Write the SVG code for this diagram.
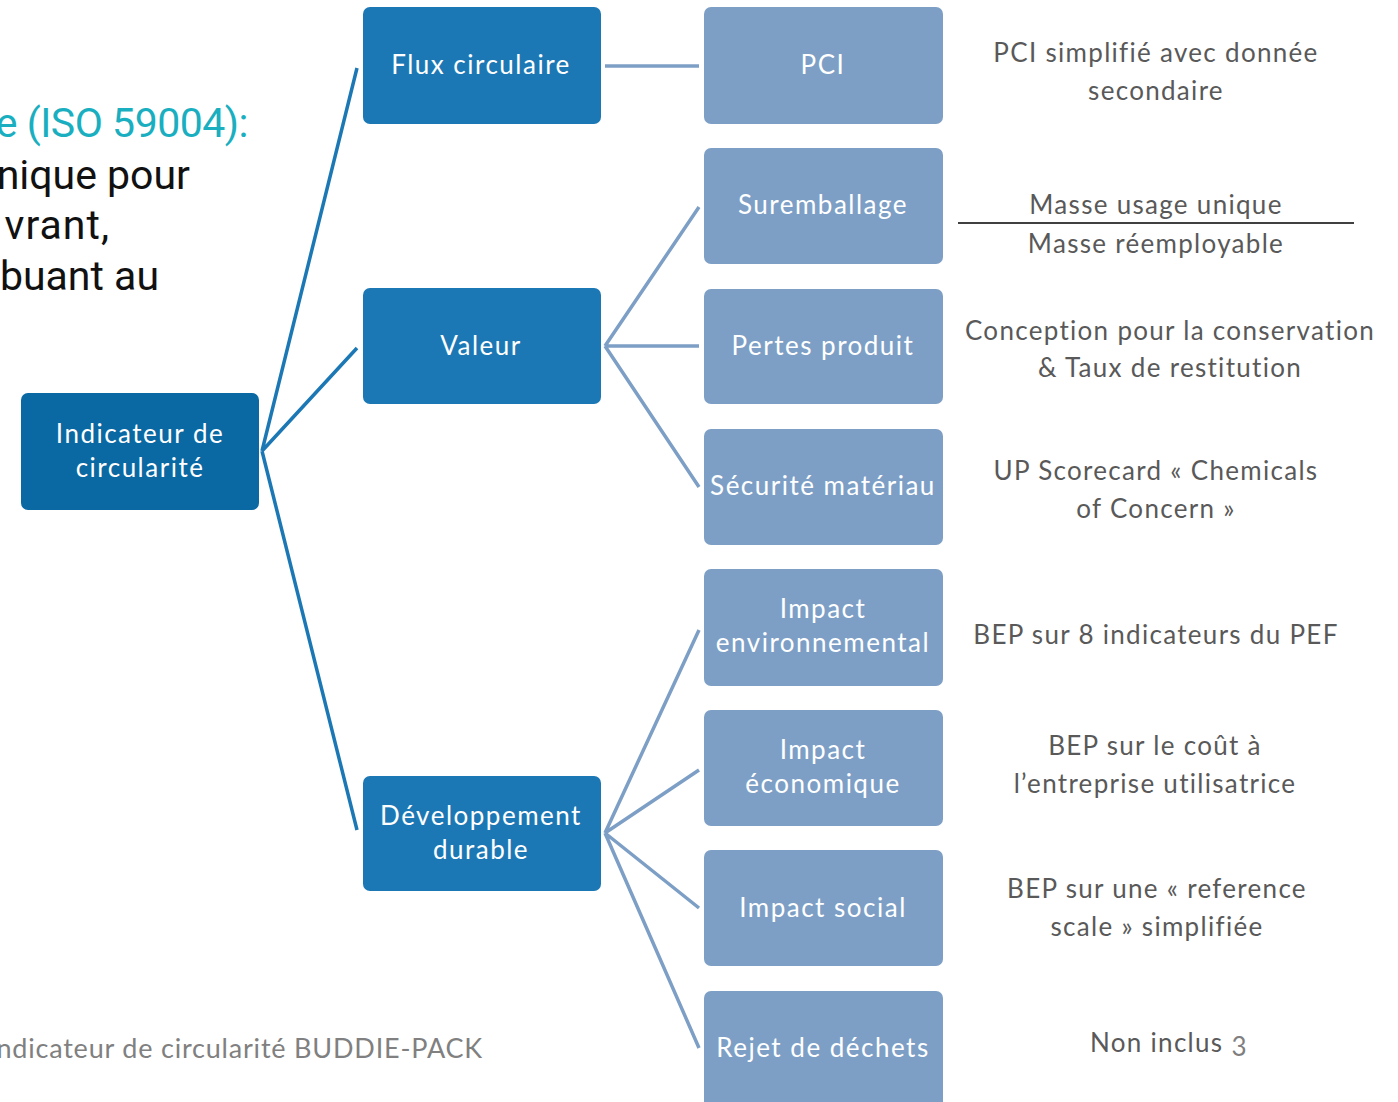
<svg xmlns="http://www.w3.org/2000/svg" width="1398" height="1102" viewBox="0 0 1398 1102">
<style>
.root{fill:#0a68a3}
.l1{fill:#1c78b5}
.l2{fill:#7d9fc6}
.wt{font-family:Lato,"Liberation Sans",sans-serif;font-size:26px;letter-spacing:1.5px;fill:#fff;text-anchor:middle}
.gt{font-family:Lato,"Liberation Sans",sans-serif;font-size:26px;letter-spacing:1.3px;fill:#595959;text-anchor:middle}
.big{font-family:Roboto,"DejaVu Sans",sans-serif;font-size:41px;text-anchor:end}
.c1{stroke:#1c78b5;stroke-width:3.5;fill:none}
.c2{stroke:#7d9fc6;stroke-width:3.5;fill:none}
</style>
<rect width="1398" height="1102" fill="#fff"/>
<g id="left-text">
<text class="big" x="248" y="137" fill="#1aafc0" letter-spacing="-0.5">e (ISO 59004):</text>
<text class="big" x="190" y="189" fill="#111">nique pour</text>
<text class="big" x="110" y="239" fill="#111" letter-spacing="1">vrant,</text>
<text class="big" x="159" y="290" fill="#111">buant au</text>
</g>
<text id="caption" x="483" y="1058" font-family="Lato,'Liberation Sans',sans-serif" font-size="27" letter-spacing="0.8" fill="#808080" text-anchor="end">ndicateur de circularité BUDDIE-PACK</text>
<g id="connectors">
<path class="c1" d="M262 451 L357 68 M262 451 L357 348 M262 451 L357 830"/>
<path class="c2" d="M605 66 L699 66"/>
<path class="c2" d="M605 346 L699 207 M605 346 L699 346 M605 346 L699 487"/>
<path class="c2" d="M605 833 L699 630 M605 833 L699 770 M605 833 L699 908 M605 833 L699 1048"/>
</g>
<g id="root"><rect class="root" x="21" y="393" width="238" height="117" rx="7"/><text class="wt" x="140" y="443">Indicateur de</text><text class="wt" x="140" y="477">circularité</text></g>
<g id="flux"><rect class="l1" x="363" y="7" width="238" height="117" rx="7"/><text class="wt" x="481" y="74">Flux circulaire</text></g>
<g id="valeur"><rect class="l1" x="363" y="288" width="238" height="116" rx="7"/><text class="wt" x="481" y="355">Valeur</text></g>
<g id="dev"><rect class="l1" x="363" y="776" width="238" height="115" rx="7"/><text class="wt" x="481" y="825">Développement</text><text class="wt" x="481" y="859">durable</text></g>
<g id="pci"><rect class="l2" x="704" y="7" width="239" height="117" rx="7"/><text class="wt" x="823" y="74">PCI</text></g>
<g id="surembal"><rect class="l2" x="704" y="148" width="239" height="116" rx="7"/><text class="wt" x="823" y="214">Suremballage</text></g>
<g id="pertes"><rect class="l2" x="704" y="289" width="239" height="115" rx="7"/><text class="wt" x="823" y="355">Pertes produit</text></g>
<g id="securite"><rect class="l2" x="704" y="429" width="239" height="116" rx="7"/><text class="wt" x="823" y="495">Sécurité matériau</text></g>
<g id="impenv"><rect class="l2" x="704" y="569" width="239" height="117" rx="7"/><text class="wt" x="823" y="618">Impact</text><text class="wt" x="823" y="652">environnemental</text></g>
<g id="impeco"><rect class="l2" x="704" y="710" width="239" height="116" rx="7"/><text class="wt" x="823" y="759">Impact</text><text class="wt" x="823" y="793">économique</text></g>
<g id="impsoc"><rect class="l2" x="704" y="850" width="239" height="116" rx="7"/><text class="wt" x="823" y="917">Impact social</text></g>
<g id="rejet"><rect class="l2" x="704" y="991" width="239" height="125" rx="7"/><text class="wt" x="823" y="1057">Rejet de déchets</text></g>
<g id="desc">
<text class="gt" x="1156" y="62">PCI simplifié avec donnée</text>
<text class="gt" x="1156" y="100">secondaire</text>
<text class="gt" x="1156" y="214">Masse usage unique</text>
<line x1="958" y1="223" x2="1354" y2="223" stroke="#404040" stroke-width="2"/>
<text class="gt" x="1156" y="253">Masse réemployable</text>
<text class="gt" x="1170" y="340">Conception pour la conservation</text>
<text class="gt" x="1170" y="377">&amp; Taux de restitution</text>
<text class="gt" x="1156" y="480">UP Scorecard « Chemicals</text>
<text class="gt" x="1156" y="518">of Concern »</text>
<text class="gt" x="1156" y="644">BEP sur 8 indicateurs du PEF</text>
<text class="gt" x="1155" y="755">BEP sur le coût à</text>
<text class="gt" x="1155" y="793">l’entreprise utilisatrice</text>
<text class="gt" x="1157" y="898">BEP sur une « reference</text>
<text class="gt" x="1157" y="936">scale » simplifiée</text>
<text class="gt" x="1090" y="1052" style="text-anchor:start">Non inclus <tspan dy="4" fill="#7f7f7f">3</tspan></text>
</g>
</svg>
